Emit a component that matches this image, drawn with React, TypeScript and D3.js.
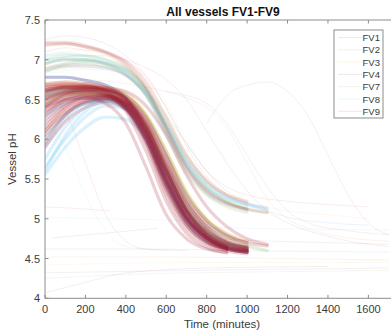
import * as d3 from "d3"

// sample times (minutes) shared by the run arrays below
const TIMES = [0, 100, 200, 300, 400, 500, 600, 700, 800, 900, 1000, 1100, 1200, 1300, 1400, 1500, 1600, 1700]

const VESSELS = ["FV1", "FV2", "FV3", "FV4", "FV7", "FV8", "FV9"]
const VESSEL_COLORS = ["#0072BD", "#D95319", "#EDB120", "#7E2F8E", "#77AC30", "#4DBEEE", "#A2142F"]

// pH per run, one value per entry of TIMES (runs stop when the array ends)
// main band
const FV1_RUNS = [
  [6.78, 6.78, 6.74, 6.68, 6.52, 6.12, 5.55, 5.08, 4.8, 4.68, 4.62],
  [6.3, 6.45, 6.52, 6.52, 6.4, 6.05, 5.5, 5.02, 4.76, 4.64, 4.58],
  [6.0, 6.3, 6.45, 6.48, 6.38, 6.0, 5.42, 4.96, 4.72, 4.62],
  [6.55, 6.62, 6.62, 6.58, 6.45, 6.12, 5.6, 5.12, 4.84, 4.7, 4.64],
]
const FV2_RUNS = [
  [6.62, 6.65, 6.65, 6.62, 6.5, 6.18, 5.65, 5.15, 4.85, 4.7, 4.64],
  [6.68, 6.7, 6.68, 6.62, 6.48, 6.12, 5.58, 5.1, 4.82, 4.68],
  [6.35, 6.5, 6.56, 6.55, 6.45, 6.12, 5.6, 5.1, 4.82, 4.68, 4.62],
  [6.5, 6.58, 6.6, 6.56, 6.4, 5.98, 5.38, 4.92, 4.7, 4.62],
  [6.1, 6.38, 6.5, 6.52, 6.44, 6.12, 5.58, 5.08, 4.8, 4.66],
]
const FV3_RUNS = [
  [6.6, 6.64, 6.65, 6.64, 6.55, 6.28, 5.8, 5.28, 4.95, 4.78, 4.7],
  [6.68, 6.7, 6.7, 6.66, 6.58, 6.32, 5.85, 5.35, 5.0, 4.82, 4.72],
  [6.45, 6.55, 6.58, 6.56, 6.46, 6.15, 5.62, 5.12, 4.84, 4.7, 4.64],
]
const FV4_RUNS = [
  [6.78, 6.78, 6.74, 6.68, 6.52, 6.15, 5.6, 5.12, 4.84, 4.7, 4.64],
  [6.5, 6.58, 6.6, 6.58, 6.46, 6.1, 5.55, 5.05, 4.78, 4.66, 4.62],
  [6.62, 6.66, 6.66, 6.62, 6.52, 6.25, 5.78, 5.25, 4.94, 4.78, 4.7],
  [6.4, 6.52, 6.56, 6.54, 6.42, 6.05, 5.48, 5.0, 4.76, 4.64],
]
const FV7_RUNS = [
  [6.55, 6.6, 6.62, 6.6, 6.48, 6.15, 5.62, 5.12, 4.82, 4.66, 4.6],
  [6.45, 6.55, 6.58, 6.55, 6.45, 6.15, 5.68, 5.2, 4.88, 4.7, 4.62],
  [6.6, 6.64, 6.64, 6.62, 6.55, 6.3, 5.85, 5.32, 4.98, 4.78, 4.66, 4.6],
]
const FV8_RUNS = [
  [5.6, 6.05, 6.35, 6.48, 6.42, 6.1, 5.55, 5.05, 4.78, 4.64, 4.58],
  [5.75, 6.15, 6.4, 6.5, 6.4, 6.02, 5.45, 4.98, 4.74, 4.62],
  [5.9, 6.25, 6.45, 6.5, 6.38, 5.98, 5.4, 4.95, 4.72, 4.62, 4.58],
  [5.65, 6.0, 6.28, 6.42, 6.38, 6.1, 5.62, 5.12, 4.84, 4.68, 4.6],
  [5.55, 5.9, 6.15, 6.28, 6.25, 6.0, 5.5, 5.02, 4.76, 4.63],
]
const FV9_RUNS = [
  [6.45, 6.58, 6.62, 6.6, 6.45, 6.05, 5.45, 5.0, 4.75, 4.62, 4.58],
  [6.6, 6.66, 6.66, 6.62, 6.5, 6.15, 5.6, 5.1, 4.82, 4.68, 4.62],
  [6.3, 6.5, 6.57, 6.55, 6.38, 5.95, 5.35, 4.92, 4.7, 4.6, 4.56],
  [6.65, 6.68, 6.67, 6.6, 6.4, 5.95, 5.3, 4.88, 4.68, 4.6],
  [6.2, 6.42, 6.52, 6.52, 6.38, 6.0, 5.45, 5.0, 4.76, 4.64, 4.6],
  [6.55, 6.62, 6.64, 6.62, 6.52, 6.22, 5.7, 5.2, 4.9, 4.74, 4.66],
  [6.4, 6.55, 6.6, 6.56, 6.35, 5.85, 5.22, 4.82, 4.64, 4.57],
  [6.66, 6.68, 6.68, 6.64, 6.55, 6.28, 5.8, 5.3, 4.98, 4.8, 4.7, 4.66],
  [6.1, 6.35, 6.48, 6.5, 6.4, 6.05, 5.5, 5.02, 4.76, 4.62],
  [6.5, 6.6, 6.62, 6.58, 6.42, 6.0, 5.4, 4.95, 4.72, 4.62, 4.58],
  [6.4, 6.5, 6.52, 6.45, 6.2, 5.65, 5.05, 4.75, 4.62, 4.58],
  [6.6, 6.65, 6.66, 6.65, 6.6, 6.42, 6.05, 5.55, 5.15, 4.9, 4.75, 4.68],
  [5.95, 6.3, 6.48, 6.52, 6.42, 6.08, 5.5, 5.02, 4.76, 4.63, 4.58],
  [6.7, 6.72, 6.7, 6.65, 6.5, 6.1, 5.5, 5.02, 4.76, 4.64, 4.6],
  [6.35, 6.48, 6.55, 6.55, 6.48, 6.2, 5.72, 5.22, 4.9, 4.72, 4.64],
  [6.58, 6.64, 6.64, 6.6, 6.46, 6.08, 5.5, 5.02, 4.76, 4.64, 4.6],
  [6.52, 6.6, 6.63, 6.62, 6.5, 6.18, 5.62, 5.1, 4.8, 4.66, 4.6],
  [6.25, 6.45, 6.54, 6.54, 6.44, 6.1, 5.55, 5.05, 4.78, 4.64],
  [6.62, 6.66, 6.66, 6.63, 6.52, 6.2, 5.68, 5.16, 4.86, 4.7, 4.63],
  [6.42, 6.56, 6.6, 6.57, 6.42, 6.02, 5.42, 4.96, 4.72, 4.62],
  [6.05, 6.32, 6.46, 6.5, 6.44, 6.12, 5.6, 5.1, 4.8, 4.66, 4.6],
  [6.15, 6.4, 6.52, 6.54, 6.46, 6.15, 5.62, 5.1, 4.8, 4.65],
  [5.9, 6.22, 6.4, 6.46, 6.38, 6.02, 5.45, 4.98, 4.74, 4.62, 4.58],
]
const MAIN_BY_VESSEL = [FV1_RUNS, FV2_RUNS, FV3_RUNS, FV4_RUNS, FV7_RUNS, FV8_RUNS, FV9_RUNS]

// high-start runs (pH near 7 at the start, level off around 5.1)
const FV1_HIGH = [[6.95, 7.0, 7.0, 6.96, 6.86, 6.62, 6.2, 5.75, 5.45, 5.28, 5.18, 5.12]]
const FV2_HIGH = [[7.2, 7.2, 7.16, 7.08, 6.92, 6.62, 6.12, 5.62, 5.32, 5.18, 5.12]]
const FV3_HIGH = [[6.9, 6.95, 6.98, 6.95, 6.88, 6.65, 6.25, 5.8, 5.48, 5.3, 5.2]]
const FV4_HIGH = [[6.88, 6.92, 6.92, 6.9, 6.8, 6.56, 6.12, 5.66, 5.36, 5.2, 5.12]]
const FV7_HIGH = [
  [7.0, 7.05, 7.05, 7.0, 6.9, 6.65, 6.2, 5.72, 5.4, 5.22, 5.12, 5.08],
  [6.95, 7.0, 7.0, 6.95, 6.82, 6.55, 6.05, 5.58, 5.3, 5.15, 5.08],
  [6.85, 6.92, 6.95, 6.92, 6.82, 6.58, 6.15, 5.68, 5.38, 5.22, 5.14],
]
const FV8_HIGH = [
  [7.05, 7.08, 7.05, 7.0, 6.88, 6.6, 6.15, 5.7, 5.4, 5.25, 5.18, 5.14],
  [7.0, 7.02, 7.0, 6.95, 6.82, 6.55, 6.08, 5.62, 5.32, 5.18, 5.1],
  [6.85, 6.95, 6.98, 6.95, 6.85, 6.6, 6.18, 5.72, 5.42, 5.26, 5.18],
]
const FV9_HIGH = [
  [7.22, 7.22, 7.18, 7.1, 6.95, 6.65, 6.15, 5.65, 5.35, 5.2, 5.12, 5.08],
  [7.18, 7.2, 7.16, 7.1, 6.98, 6.72, 6.28, 5.8, 5.48, 5.3, 5.22],
]
const HIGH_BY_VESSEL = [FV1_HIGH, FV2_HIGH, FV3_HIGH, FV4_HIGH, FV7_HIGH, FV8_HIGH, FV9_HIGH]

// sparse, barely visible runs: vessel index, then [time, pH] pairs
const FAINT_VESSEL = [6, 5, 6, 0, 1, 2, 3, 6, 4, 6, 5, 6, 0, 6, 1, 6, 2, 3, 5, 3, 4, 6, 5]
const FAINT_POINTS: [number, number][][] = [
  [[0, 5.15], [150, 5.13], [320, 5.1]],
  [[0, 5.02], [300, 5.0], [700, 4.98]],
  [[40, 4.76], [300, 4.82], [555, 4.88]],
  [[0, 4.62], [500, 4.62], [1000, 4.6], [1700, 4.58]],
  [[0, 4.52], [600, 4.52], [1200, 4.5], [1700, 4.48]],
  [[0, 4.42], [800, 4.45], [1700, 4.45]],
  [[0, 4.32], [700, 4.35], [1700, 4.38]],
  [[0, 4.07], [200, 4.2], [400, 4.32], [800, 4.38], [1400, 4.4]],
  [[0, 4.25], [400, 4.3], [1000, 4.33], [1700, 4.35]],
  [[0, 6.6], [100, 6.35], [200, 5.7], [300, 5.05], [400, 4.72], [500, 4.62], [700, 4.6]],
  [[0, 6.2], [100, 5.9], [200, 5.3], [300, 4.85], [400, 4.65], [600, 4.6]],
  [[0, 7.1], [100, 7.15], [200, 7.12], [300, 7.08], [400, 7.0], [500, 6.9], [600, 6.75], [700, 6.5], [800, 6.1], [900, 5.7], [1000, 5.35], [1100, 5.1], [1200, 4.95], [1300, 4.85], [1400, 4.78], [1500, 4.72], [1600, 4.68], [1700, 4.65]],
  [[0, 6.9], [100, 6.95], [200, 6.95], [300, 6.9], [400, 6.8], [500, 6.6], [600, 6.3], [700, 5.95], [800, 5.6], [900, 5.35], [1000, 5.2], [1100, 5.1], [1200, 5.02], [1400, 4.95], [1600, 4.92]],
  [[800, 6.2], [900, 6.55], [1000, 6.68], [1100, 6.72], [1200, 6.6], [1300, 6.3], [1400, 5.8], [1500, 5.3], [1600, 4.95], [1700, 4.8]],
  [[0, 6.7], [200, 6.75], [400, 6.7], [600, 6.6], [700, 6.52], [800, 6.4], [900, 6.15], [1000, 5.7], [1100, 5.25], [1200, 5.0], [1300, 4.88], [1500, 4.76], [1700, 4.72]],
  [[0, 7.25], [100, 7.3], [200, 7.28], [300, 7.2], [400, 7.05], [500, 6.8], [600, 6.4], [700, 5.95], [800, 5.6], [900, 5.4], [1000, 5.3], [1200, 5.22], [1400, 5.18], [1600, 5.15]],
  [[0, 7.1], [200, 7.12], [400, 7.0], [500, 6.8], [600, 6.45], [700, 6.0], [800, 5.6], [900, 5.35], [1000, 5.22], [1200, 5.1], [1400, 5.05], [1600, 5.0]],
  [[600, 6.6], [700, 6.55], [800, 6.45], [900, 6.2], [1000, 5.8], [1100, 5.4], [1200, 5.1], [1300, 4.95], [1500, 4.85], [1700, 4.8]],
  [[700, 4.9], [1000, 4.88], [1300, 4.87], [1700, 4.86]],
  [[800, 4.75], [1100, 4.72], [1400, 4.7], [1700, 4.68]],
  [[0, 6.85], [150, 6.9], [300, 6.88], [400, 6.8], [500, 6.55], [600, 6.1], [700, 5.65], [800, 5.35], [900, 5.2], [1000, 5.12]],
  [[0, 6.95], [150, 7.05], [300, 7.05], [450, 6.9], [550, 6.6], [650, 6.15], [750, 5.7], [850, 5.4], [1000, 5.2], [1100, 5.15]],
  [[0, 6.82], [200, 6.88], [350, 6.85], [450, 6.7], [550, 6.35], [650, 5.9], [750, 5.5], [900, 5.25], [1050, 5.12]],
]

const W = 391
const H = 334
const M = { left: 45, top: 20, right: 398.7, bottom: 298.3 }
const FONT = "'Liberation Sans', Arial, Helvetica, sans-serif"
const AXIS = "#8c8c8c"
const TEXT = "#3a3a3a"

export default function App() {
  const x = d3.scaleLinear().domain([0, 1750]).range([M.left, M.right])
  const y = d3.scaleLinear().domain([4, 7.5]).range([M.bottom, M.top])

  const line = d3
    .line<[number, number]>()
    .x((d) => x(d[0]))
    .y((d) => y(d[1]))
    .curve(d3.curveMonotoneX)

  const runPath = (run: number[]) => line(run.map((v, k) => [TIMES[k], v] as [number, number])) || ""

  const xTicks = x.ticks(10)
  const yTicks = y.ticks(8)

  const legendX = 334
  const legendY = 30

  return (
    <svg
      width={W}
      height={H}
      style={{ position: "absolute", left: 0, top: 0, background: "#fff" }}
      fontFamily={FONT}
    >
      <defs>
        <clipPath id="plot">
          <rect x={M.left} y={M.top} width={M.right - M.left} height={M.bottom - M.top} />
        </clipPath>
      </defs>

      <g clipPath="url(#plot)" fill="none" strokeLinecap="round">
        {FAINT_POINTS.map((pts, i) => (
          <path
            key={"f" + i}
            d={line(pts) || ""}
            stroke={VESSEL_COLORS[FAINT_VESSEL[i]]}
            strokeOpacity={0.08}
            strokeWidth={1}
          />
        ))}
        {HIGH_BY_VESSEL.map((runs, vi) =>
          runs.map((run, ri) => (
            <path
              key={"h" + vi + "-" + ri}
              d={runPath(run)}
              stroke={VESSEL_COLORS[vi]}
              strokeOpacity={0.13}
              strokeWidth={3}
            />
          ))
        )}
        {MAIN_BY_VESSEL.map((runs, vi) =>
          runs.map((run, ri) => (
            <path
              key={vi + "-" + ri}
              d={runPath(run)}
              stroke={VESSEL_COLORS[vi]}
              strokeOpacity={0.2}
              strokeWidth={3.2}
            />
          ))
        )}
      </g>

      {/* axes box */}
      <line x1={M.left} x2={W} y1={M.top} y2={M.top} stroke={AXIS} />
      <line x1={M.left} x2={W} y1={M.bottom} y2={M.bottom} stroke={AXIS} />
      <line x1={M.left} x2={M.left} y1={M.top} y2={M.bottom} stroke={AXIS} />

      {xTicks.map((t) => (
        <g key={"x" + t}>
          <line x1={x(t)} x2={x(t)} y1={M.bottom} y2={M.bottom - 3.5} stroke={AXIS} />
          <line x1={x(t)} x2={x(t)} y1={M.top} y2={M.top + 3.5} stroke={AXIS} />
          <text x={x(t)} y={M.bottom + 15} textAnchor="middle" fontSize={11} fill={TEXT}>
            {t}
          </text>
        </g>
      ))}
      {yTicks.map((t) => (
        <g key={"y" + t}>
          <line x1={M.left} x2={M.left + 3.5} y1={y(t)} y2={y(t)} stroke={AXIS} />
          <text x={M.left - 5} y={y(t) + 4} textAnchor="end" fontSize={11} fill={TEXT}>
            {String(t)}
          </text>
        </g>
      ))}

      <text x={223} y={15.5} textAnchor="middle" fontSize={12} fontWeight="bold" fill="#111">
        All vessels FV1-FV9
      </text>
      <text x={222} y={328} textAnchor="middle" fontSize={11.5} fill={TEXT}>
        Time (minutes)
      </text>
      <text
        transform={`translate(16,${(M.top + M.bottom) / 2}) rotate(-90)`}
        textAnchor="middle"
        fontSize={11.5}
        fill={TEXT}
      >
        Vessel pH
      </text>

      {/* legend */}
      <rect x={legendX} y={legendY} width={49} height={88} fill="#fff" stroke={AXIS} />
      {VESSELS.map((v, i) => (
        <g key={v}>
          <line
            x1={legendX + 4}
            x2={legendX + 28}
            y1={legendY + 7.5 + i * 12.3}
            y2={legendY + 7.5 + i * 12.3}
            stroke={VESSEL_COLORS[i]}
            strokeOpacity={0.12}
          />
          <text x={legendX + 46} y={legendY + 11 + i * 12.3} textAnchor="end" fontSize={9.5} fill={TEXT}>
            {v}
          </text>
        </g>
      ))}
    </svg>
  )
}
